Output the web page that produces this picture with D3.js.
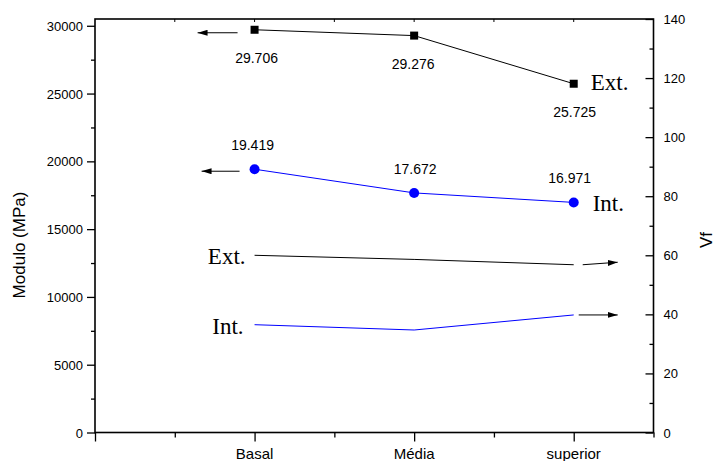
<!DOCTYPE html>
<html>
<head>
<meta charset="utf-8">
<script src="https://cdnjs.cloudflare.com/ajax/libs/d3/7.8.5/d3.min.js"></script>
<style>
    body { margin: 0; background: #fff; }
    svg { display: block; }
    text { font-family: Arial, "Liberation Sans", sans-serif; }
    .serif { font-family: "Times New Roman", "Liberation Serif", serif; }
</style>
</head>
<body>
<svg id="chart" width="715" height="461"></svg>
<script>
var categories = ['Basal', 'Média', 'superior'];
var cat_pos = [1, 2, 3];

// Modulo (MPa), left axis
var modulo_ext = [29706, 29276, 25725];
var modulo_int = [19419, 17672, 16971];
var modulo_ext_labels = ['29.706', '29.276', '25.725'];
var modulo_int_labels = ['19.419', '17.672', '16.971'];

// Vf, right axis
var vf_ext = [60.0, 58.6, 56.8];
var vf_int = [36.5, 34.7, 39.8];

var left_ticks = [0, 5000, 10000, 15000, 20000, 25000, 30000];
var right_ticks = [0, 20, 40, 60, 80, 100, 120, 140];

var svg = d3.select('#chart');

var x = d3.scaleLinear().domain([0, 3.5]).range([95, 653.5]);
var yl = d3.scaleLinear().domain([0, 30500]).range([432.5, 19]);
var yr = d3.scaleLinear().domain([0, 140]).range([432.5, 19]);

svg.append('defs').append('marker')
    .attr('id', 'head')
    .attr('viewBox', '0 0 10 6')
    .attr('refX', 10).attr('refY', 3)
    .attr('markerWidth', 10).attr('markerHeight', 6)
    .attr('markerUnits', 'userSpaceOnUse')
    .attr('orient', 'auto')
    .append('path')
        .attr('d', 'M0,0 L10,3 L0,6 Z')
        .attr('fill', '#000');

// axes (major + minor ticks)
var minor_l = d3.range(0, 30001, 2500);
var minor_r = d3.range(0, 141, 10);
var minor_x = d3.range(0, 3.51, 0.5);

var gl = svg.append('g').attr('transform', 'translate(95,0)')
    .call(d3.axisLeft(yl).tickValues(minor_l).tickSize(0).tickFormat(''));
gl.selectAll('.tick').append('line')
    .attr('x2', d => (d % 5000 == 0) ? -8 : -4)
    .attr('stroke', '#000').attr('stroke-width', 1.3);
gl.selectAll('.tick').append('text')
    .filter(d => left_ticks.indexOf(d) >= 0)
    .attr('x', -12).attr('dy', '0.35em')
    .attr('text-anchor', 'end')
    .attr('fill', '#000')
    .style('font-size', '13px')
    .text(d => d);
gl.select('.domain').remove();

var gr = svg.append('g').attr('transform', 'translate(653.5,0)')
    .call(d3.axisRight(yr).tickValues(minor_r).tickSize(0).tickFormat(''));
gr.selectAll('.tick').append('line')
    .attr('x2', d => (d % 20 == 0) ? -8 : -4)
    .attr('stroke', '#000').attr('stroke-width', 1.3);
gr.selectAll('.tick').append('text')
    .filter(d => right_ticks.indexOf(d) >= 0)
    .attr('x', 10).attr('dy', '0.35em')
    .attr('fill', '#000')
    .style('font-size', '13px')
    .text(d => d);
gr.select('.domain').remove();

var gb = svg.append('g').attr('transform', 'translate(0,432.5)')
    .call(d3.axisBottom(x).tickValues(minor_x).tickSize(0).tickFormat(''));
gb.selectAll('.tick').append('line')
    .attr('y2', d => (d % 1 == 0) ? 9 : 5)
    .attr('stroke', '#000').attr('stroke-width', 1.3);
gb.select('.domain').remove();
gb.selectAll('.cat')
    .data(cat_pos)
    .enter().append('text')
        .attr('class', 'cat')
        .attr('x', d => x(d))
        .attr('y', 26.5)
        .attr('text-anchor', 'middle')
        .attr('fill', '#000')
        .style('font-size', '15px')
        .text((d, i) => categories[i]);

// small inward ticks on the top edge
svg.append('g').selectAll('line')
    .data(minor_x.slice(1, -1))
    .enter().append('line')
        .attr('x1', d => x(d)).attr('x2', d => x(d))
        .attr('y1', yl.range()[1]).attr('y2', yl.range()[1] + 3)
        .attr('stroke', '#000').attr('stroke-width', 1);

// frame
svg.append('rect')
    .attr('x', x.range()[0]).attr('y', yl.range()[1])
    .attr('width', x.range()[1] - x.range()[0])
    .attr('height', yl.range()[0] - yl.range()[1])
    .attr('fill', 'none')
    .attr('stroke', '#000').attr('stroke-width', 1.6);

// axis titles
svg.append('text')
    .attr('transform', 'translate(25,245) rotate(-90)')
    .attr('text-anchor', 'middle')
    .style('font-size', '17px')
    .text('Modulo (MPa)');
svg.append('text')
    .attr('transform', 'translate(712,240) rotate(-90)')
    .attr('text-anchor', 'middle')
    .style('font-size', '17px')
    .text('Vf');

// series
var line_l = d3.line().x((d, i) => x(cat_pos[i])).y(d => yl(d));
var line_r = d3.line().x((d, i) => x(cat_pos[i])).y(d => yr(d));

svg.append('path').datum(modulo_ext)
    .attr('d', line_l).attr('fill', 'none')
    .attr('stroke', '#000').attr('stroke-width', 1);
svg.append('path').datum(modulo_int)
    .attr('d', line_l).attr('fill', 'none')
    .attr('stroke', '#0000ff').attr('stroke-width', 1);
svg.append('path').datum(vf_ext)
    .attr('d', line_r).attr('fill', 'none')
    .attr('stroke', '#000').attr('stroke-width', 1);
svg.append('path').datum(vf_int)
    .attr('d', line_r).attr('fill', 'none')
    .attr('stroke', '#0000ff').attr('stroke-width', 1);

svg.selectAll('rect.pt')
    .data(modulo_ext)
    .enter().append('rect')
        .attr('class', 'pt')
        .attr('x', (d, i) => x(cat_pos[i]) - 4)
        .attr('y', d => yl(d) - 4)
        .attr('width', 8).attr('height', 8)
        .attr('fill', '#000');
svg.selectAll('circle.pt')
    .data(modulo_int)
    .enter().append('circle')
        .attr('class', 'pt')
        .attr('cx', (d, i) => x(cat_pos[i]))
        .attr('cy', d => yl(d))
        .attr('r', 5)
        .attr('fill', '#0000ff');

// value labels
svg.selectAll('text.vext')
    .data(modulo_ext)
    .enter().append('text')
        .attr('class', 'vext')
        .attr('x', (d, i) => x(cat_pos[i]) + [2, -1, 1][i])
        .attr('y', d => yl(d) + 33)
        .attr('text-anchor', 'middle')
        .style('font-size', '14px')
        .text((d, i) => modulo_ext_labels[i]);
svg.selectAll('text.vint')
    .data(modulo_int)
    .enter().append('text')
        .attr('class', 'vint')
        .attr('x', (d, i) => x(cat_pos[i]) + [-2, 1, -4][i])
        .attr('y', d => yl(d) - 19)
        .attr('text-anchor', 'middle')
        .style('font-size', '14px')
        .text((d, i) => modulo_int_labels[i]);

// series names
function serif_label(tx, ty, s, anchor) {
    svg.append('text')
        .attr('class', 'serif')
        .attr('x', tx).attr('y', ty)
        .attr('text-anchor', anchor || 'start')
        .style('font-size', '23px')
        .text(s);
}
serif_label(x(3) + 17, yl(modulo_ext[2]) + 6, 'Ext.');
serif_label(x(3) + 19, yl(modulo_int[2]) + 9, 'Int.');
serif_label(x(1) - 9, yr(vf_ext[0]) + 9, 'Ext.', 'end');
serif_label(x(1) - 11, yr(vf_int[0]) + 9, 'Int.', 'end');

// arrows pointing to the axis each series belongs to
function arrow(x1, y1, x2, y2) {
    svg.append('line')
        .attr('x1', x1).attr('y1', y1)
        .attr('x2', x2).attr('y2', y2)
        .attr('stroke', '#000').attr('stroke-width', 1)
        .attr('marker-end', 'url(#head)');
}
arrow(x(1) - 17, yl(modulo_ext[0]) + 3, x(1) - 57, yl(modulo_ext[0]) + 3);
arrow(x(1) - 15, yl(modulo_int[0]) + 2, x(1) - 53, yl(modulo_int[0]) + 2);
arrow(x(3) + 9, yr(vf_ext[2]), x(3) + 44, yr(vf_ext[2]) - 2.5);
arrow(x(3) + 5, yr(vf_int[2]), x(3) + 44, yr(vf_int[2]));
</script>
</body>
</html>
